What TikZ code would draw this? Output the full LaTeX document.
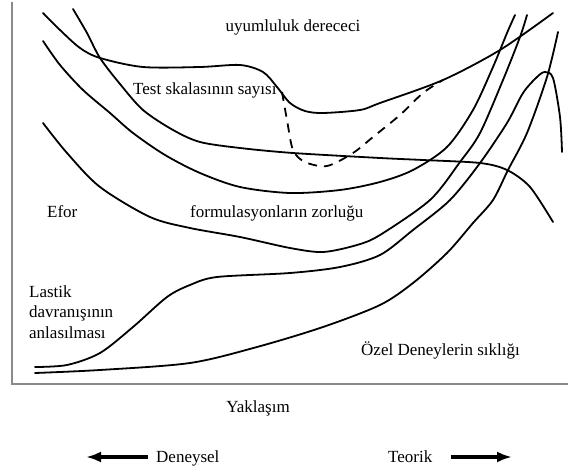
\documentclass[tikz,border=0pt]{standalone}
\usepackage{fontspec}
\setmainfont{Liberation Serif}
\usepackage{xcolor}
\usepackage{tikz}
\usetikzlibrary{arrows.meta}
\definecolor{axisgray}{HTML}{8A8A8A}

\begin{document}
\begin{tikzpicture}[
  x=1pt,y=-1pt,
  curve/.style={line width=1.8pt,line join=round,line cap=round},
  dashcurve/.style={curve,line cap=butt,dash pattern=on 9pt off 7pt},
  axisline/.style={draw=axisgray,line width=1.6pt},
  lbl/.style={font=\fontsize{17}{20.5}\selectfont,inner sep=0pt},
  bigarrow/.style={line width=3.2pt,-{Latex[length=15pt,width=11pt]}}
]
  \useasboundingbox (0,0) rectangle (568,468);
  % axes
  \draw[axisline] (12,2) -- (12,384) -- (568,384);

  % uyumluluk
  \draw[curve] plot[smooth] coordinates {(43,13) (60,30) (80,48) (100,58) (143,67)
    (200,67) (240,65) (263,72) (277,87) (290,103) (305,111) (323,113) (360,110)
    (380,103) (443,80) (500,50) (553,13)};
  \draw[dashcurve] plot[smooth] coordinates {(282,92) (287,120) (293,150) (305,162)
    (327,166) (353,153) (373,137) (400,115) (423,93) (443,80)};
  % test skalasi
  \draw[curve] plot[smooth] coordinates {(73,9) (87,33) (100,58) (120,84) (143,110)
    (173,130) (200,142) (240,148) (293,153) (380,158) (423,160) (480,163) (507,170)
    (530,187) (553,222)};
  % efor
  \draw[curve] plot[smooth] coordinates {(43,41) (60,65) (83,90) (110,113) (133,133)
    (165,155) (200,173) (240,187) (290,193) (340,190) (380,182) (413,170) (447,147)
    (473,110) (493,67) (507,33) (515,15)};
  % formulasyon
  \draw[curve] plot[smooth] coordinates {(43,123) (67,153) (100,187) (150,217)
    (190,228) (240,237) (290,248) (323,252) (357,245) (380,235) (430,200) (460,162)
    (480,133) (503,80) (520,37) (527,15)};
  % lastik
  \draw[curve] plot[smooth] coordinates {(35,367) (67,365) (100,353) (133,327)
    (167,297) (190,285) (217,277) (290,273) (340,267) (380,255) (413,230) (450,200)
    (480,163) (507,123) (523,93) (537,77) (545,72) (553,78) (560,117) (562,152)};
  % ozel deneyler
  \draw[curve] plot[smooth] coordinates {(35,373) (100,370) (190,363) (257,347)
    (323,327) (380,305) (413,283) (447,253) (473,223) (493,200) (508,170) (527,133)
    (547,77) (558,32)};

  \node[lbl,anchor=base] (uyum) at (293,32) {uyumluluk derececi};
  \node[lbl,anchor=base west] (testskala) at (133,95) {Test skalasının sayısı};
  \node[lbl,anchor=base west] (efor) at (47,218) {Efor};
  \node[lbl,anchor=base west] (formul) at (190,218) {formulasyonların zorluğu};
  \node[lbl,anchor=base west,align=left] (lastik) at (29,338)
    {Lastik\\davranışının\\anlasılması};
  \node[lbl,anchor=base east] (ozel) at (520,355) {Özel Deneylerin sıklığı};
  \node[lbl,anchor=base] (yaklasim) at (258,412) {Yaklaşım};
  \node[lbl,anchor=base west] (deneysel) at (156,462) {Deneysel};
  \node[lbl,anchor=base west] (teorik) at (388,462) {Teorik};

  \coordinate (solucu) at (86,457);
  \coordinate (sagucu) at (512,457);
  \draw[bigarrow] ([shift={(-8,-5)}]deneysel.base west) -- (solucu);
  \draw[bigarrow] ([shift={(18,-5)}]teorik.base east) -- (sagucu);
\end{tikzpicture}
\end{document}
